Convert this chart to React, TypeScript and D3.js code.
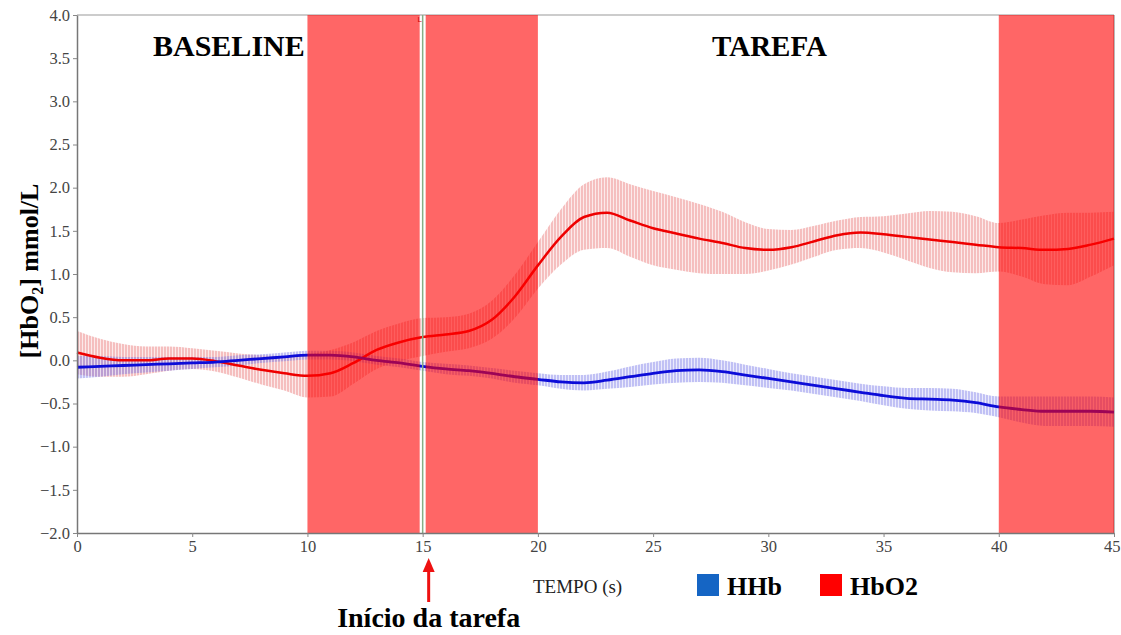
import React, { useEffect, useRef } from 'react';
import * as d3 from 'd3';

// time in seconds (one sample per second)
const time = d3.range(0, 46);

// HbO2 mean and standard deviation
const hbo2Mean = [
  0.09, 0.03, 0.0, 0.0, 0.02, 0.02, -0.01, -0.06, -0.11, -0.15,
  -0.18, -0.15, -0.03, 0.12, 0.21, 0.27, 0.3, 0.34, 0.47, 0.74,
  1.1, 1.43, 1.66, 1.71, 1.62, 1.53, 1.47, 1.41, 1.36, 1.3,
  1.28, 1.31, 1.38, 1.45, 1.48, 1.46, 1.43, 1.4, 1.37, 1.34,
  1.31, 1.3, 1.28, 1.29, 1.34, 1.41,
];
const hbo2Sd = [
  0.25, 0.22, 0.19, 0.16, 0.14, 0.12, 0.12, 0.14, 0.17, 0.2,
  0.25, 0.27, 0.24, 0.22, 0.22, 0.22, 0.2, 0.2, 0.22, 0.25,
  0.27, 0.32, 0.38, 0.41, 0.42, 0.43, 0.42, 0.4, 0.36, 0.3,
  0.24, 0.2, 0.18, 0.17, 0.18, 0.21, 0.27, 0.33, 0.35, 0.33,
  0.28, 0.33, 0.4, 0.42, 0.37, 0.31,
];

// HHb mean and standard deviation
const hhbMean = [
  -0.08, -0.07, -0.06, -0.05, -0.04, -0.03, -0.02, 0.0, 0.02, 0.04,
  0.06, 0.06, 0.04, 0.0, -0.03, -0.07, -0.1, -0.12, -0.15, -0.19,
  -0.22, -0.25, -0.26, -0.23, -0.19, -0.15, -0.12, -0.11, -0.13, -0.17,
  -0.21, -0.25, -0.29, -0.33, -0.37, -0.41, -0.44, -0.45, -0.46, -0.49,
  -0.54, -0.57, -0.59, -0.59, -0.59, -0.6,
];
const hhbSd = [
  0.13, 0.12, 0.1, 0.09, 0.08, 0.07, 0.06, 0.06, 0.05, 0.05,
  0.05, 0.05, 0.05, 0.05, 0.05, 0.05, 0.06, 0.06, 0.06, 0.07,
  0.07, 0.08, 0.09, 0.1, 0.12, 0.13, 0.14, 0.14, 0.13, 0.12,
  0.11, 0.1, 0.1, 0.1, 0.1, 0.11, 0.12, 0.13, 0.13, 0.12,
  0.12, 0.15, 0.17, 0.17, 0.17, 0.17,
];

// shaded intervals (s)
const shadedStart = [10, 15.13, 40];
const shadedEnd = [14.87, 20, 45];
const taskStart = 15;

const xTicks = [0, 5, 10, 15, 20, 25, 30, 35, 40, 45];
const yTicks = d3.range(-2, 4.01, 0.5);

const legendLabels = ['HHb', 'HbO2'];
const legendColors = ['#1565c4', '#ff0000'];

const serif = '"Liberation Serif", "Times New Roman", serif';

const Chart = () => {
  const svgRef = useRef<SVGSVGElement>(null);

  useEffect(() => {
    const svg = d3.select(svgRef.current);
    const width = 1121;
    const height = 635;
    const margin = { top: 15, right: 7, bottom: 102, left: 77 };
    const innerWidth = width - margin.left - margin.right;
    const innerHeight = height - margin.top - margin.bottom;

    svg.attr('width', width).attr('height', height);

    const x = d3.scaleLinear().domain([0, 45]).range([0, innerWidth]);
    const y = d3.scaleLinear().domain([-2, 4]).range([innerHeight, 0]);

    // hatch patterns for the SD bands
    const defs = svg.append('defs');
    const makePattern = (id, bg, stroke) => {
      const p = defs
        .append('pattern')
        .attr('id', id)
        .attr('patternUnits', 'userSpaceOnUse')
        .attr('width', 3)
        .attr('height', 10);
      p.append('rect').attr('width', 3).attr('height', 10).attr('fill', bg);
      p.append('line')
        .attr('x1', 1)
        .attr('x2', 1)
        .attr('y1', 0)
        .attr('y2', 10)
        .attr('stroke', stroke)
        .attr('stroke-width', 1.2);
    };
    makePattern('hatchRed', 'rgba(245,170,170,0.25)', 'rgba(228,90,90,0.5)');
    makePattern('hatchBlue', 'rgba(170,170,245,0.25)', 'rgba(95,95,225,0.5)');

    const g = svg.append('g').attr('transform', `translate(${margin.left},${margin.top})`);

    // plot frame (top and right)
    g.append('line')
      .attr('x1', 0)
      .attr('x2', innerWidth)
      .attr('y1', 0)
      .attr('y2', 0)
      .attr('stroke', '#999');
    g.append('line')
      .attr('x1', innerWidth)
      .attr('x2', innerWidth)
      .attr('y1', 0)
      .attr('y2', innerHeight)
      .attr('stroke', '#777');

    const band = (mean, sd) =>
      d3
        .area()
        .x((d, i) => x(time[i]))
        .y0((d, i) => y(mean[i] - sd[i]))
        .y1((d, i) => y(mean[i] + sd[i]))
        .curve(d3.curveMonotoneX)(time);

    const line = (mean) =>
      d3
        .line()
        .x((d, i) => x(time[i]))
        .y((d, i) => y(mean[i]))
        .curve(d3.curveMonotoneX)(time);

    g.append('path').attr('d', band(hbo2Mean, hbo2Sd)).attr('fill', 'url(#hatchRed)');
    g.append('path').attr('d', band(hhbMean, hhbSd)).attr('fill', 'url(#hatchBlue)');

    g.append('path')
      .attr('d', line(hbo2Mean))
      .attr('fill', 'none')
      .attr('stroke', '#ee0000')
      .attr('stroke-width', 2.5);
    g.append('path')
      .attr('d', line(hhbMean))
      .attr('fill', 'none')
      .attr('stroke', '#0c0cd8')
      .attr('stroke-width', 2.8);

    // shaded intervals drawn on top, semi transparent
    g.selectAll('rect.shade')
      .data(shadedStart)
      .enter()
      .append('rect')
      .attr('class', 'shade')
      .attr('x', (d) => x(d))
      .attr('y', 0)
      .attr('width', (d, i) => x(shadedEnd[i]) - x(d))
      .attr('height', innerHeight)
      .attr('fill', 'rgba(255,0,0,0.6)');

    // marker at task start
    g.append('line')
      .attr('x1', x(taskStart))
      .attr('x2', x(taskStart))
      .attr('y1', 0)
      .attr('y2', innerHeight)
      .attr('stroke', '#86ad86')
      .attr('stroke-width', 1.5);
    g.append('text')
      .attr('x', x(taskStart) - 3)
      .attr('y', 7)
      .attr('font-size', 8)
      .attr('font-family', 'Arial, sans-serif')
      .attr('fill', '#c00')
      .attr('text-anchor', 'middle')
      .text('L');

    // axes
    const xAxis = d3.axisBottom(x).tickValues(xTicks).tickSize(4).tickSizeOuter(0).tickFormat(d3.format('d'));
    const yAxis = d3.axisLeft(y).tickValues(yTicks).tickSize(4).tickSizeOuter(0).tickFormat(d3.format('.1f'));

    const gx = g.append('g').attr('transform', `translate(0,${innerHeight})`).call(xAxis);
    const gy = g.append('g').call(yAxis);
    [gx, gy].forEach((a) => {
      a.select('.domain').attr('stroke', '#777').attr('stroke-width', 1.5);
      a.selectAll('.tick line').attr('stroke', '#888');
      a.selectAll('.tick text')
        .attr('font-family', serif)
        .attr('font-size', 16.5)
        .attr('fill', '#444');
    });
    // keep the last x label inside the page
    gx.selectAll('.tick text')
      .filter((d) => d === 45)
      .attr('text-anchor', 'end')
      .attr('x', 6);

    // section titles
    svg.append('text')
      .attr('x', 153)
      .attr('y', 56)
      .attr('font-family', serif)
      .attr('font-weight', 'bold')
      .attr('font-size', 30)
      .text('BASELINE');
    svg.append('text')
      .attr('x', 712)
      .attr('y', 56)
      .attr('font-family', serif)
      .attr('font-weight', 'bold')
      .attr('font-size', 29)
      .text('TAREFA');

    // y label
    const yl = svg
      .append('text')
      .attr('transform', 'translate(38,271) rotate(-90)')
      .attr('text-anchor', 'middle')
      .attr('font-family', serif)
      .attr('font-weight', 'bold')
      .attr('font-size', 26);
    yl.append('tspan').text('[HbO');
    yl.append('tspan').attr('font-size', 16).attr('dy', 5).text('2');
    yl.append('tspan').attr('dy', -5).text('] mmol/L');

    // x label
    svg.append('text')
      .attr('x', 533)
      .attr('y', 593)
      .attr('font-family', serif)
      .attr('font-size', 19)
      .attr('fill', '#222')
      .text('TEMPO (s)');

    // legend
    const legendX = [697, 820];
    legendLabels.forEach((label, i) => {
      svg.append('rect')
        .attr('x', legendX[i])
        .attr('y', 574)
        .attr('width', 22)
        .attr('height', 22)
        .attr('fill', legendColors[i]);
      svg.append('text')
        .attr('x', legendX[i] + 30)
        .attr('y', 595)
        .attr('font-family', serif)
        .attr('font-weight', 'bold')
        .attr('font-size', 26)
        .text(label);
    });

    // arrow to task start
    const ax = margin.left + x(taskStart) + 6;
    svg.append('line')
      .attr('x1', ax)
      .attr('x2', ax)
      .attr('y1', 570)
      .attr('y2', 602)
      .attr('stroke', '#ee1111')
      .attr('stroke-width', 3);
    svg.append('path')
      .attr('d', `M${ax},558 L${ax - 6},572 L${ax + 6},572 Z`)
      .attr('fill', '#ee1111');
    svg.append('text')
      .attr('x', ax)
      .attr('y', 627)
      .attr('text-anchor', 'middle')
      .attr('font-family', serif)
      .attr('font-weight', 'bold')
      .attr('font-size', 28)
      .text('Início da tarefa');

    return () => {
      svg.selectAll('*').remove();
    };
  }, []);

  return <svg ref={svgRef} style={{ position: 'absolute', left: 0, top: 0, display: 'block' }}></svg>;
};

export default function App() {
  return <Chart />;
}
